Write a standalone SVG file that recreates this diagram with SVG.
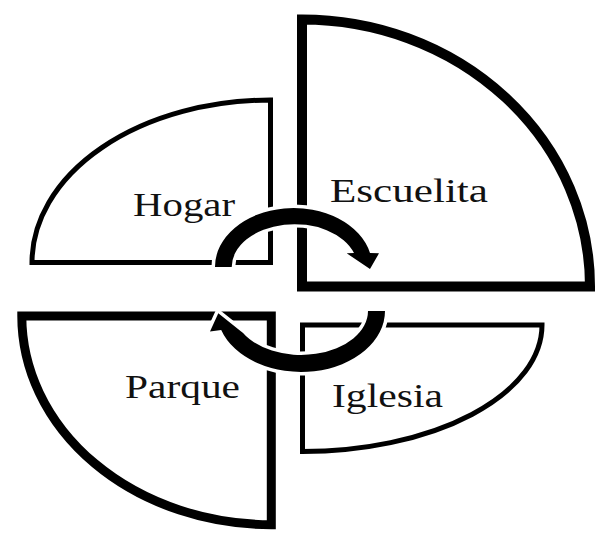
<svg xmlns="http://www.w3.org/2000/svg" width="616" height="548" viewBox="0 0 616 548">
  <style>
    .shape { fill: #ffffff; stroke: #000000; stroke-linejoin: miter; }
    .thin { stroke-width: 5; }
    .mid { stroke-width: 9; }
    .thick { stroke-width: 10; }
    .label { font-family: "Liberation Serif", "Times New Roman", serif; font-size: 34px; fill: #111111; }
    .arrow { fill: #000000; stroke: #ffffff; stroke-width: 7; stroke-linejoin: miter; paint-order: stroke; }
  </style>
  <rect width="616" height="548" fill="#ffffff"/>
  <g id="hogar">
    <path class="shape thin" d="M 270.5 100 L 270.5 262.5 L 32 262.5 A 238.5 162.5 0 0 1 270.5 100 Z"/>
    <text class="label" x="133" y="216" textLength="102" lengthAdjust="spacingAndGlyphs">Hogar</text>
  </g>
  <g id="escuelita">
    <path class="shape thick" d="M 302 19.5 L 302 286.5 L 590 286.5 A 288 267 0 0 0 302 19.5 Z"/>
    <text class="label" x="330" y="201.7" textLength="158" lengthAdjust="spacingAndGlyphs">Escuelita</text>
  </g>
  <g id="parque">
    <path class="shape mid" d="M 21.8 316 L 271.3 316 L 271.3 524.7 A 249.5 208.7 0 0 1 21.8 316 Z"/>
    <text class="label" x="125" y="397.7" textLength="115" lengthAdjust="spacingAndGlyphs">Parque</text>
  </g>
  <g id="iglesia">
    <path class="shape thin" d="M 302.5 451.5 L 302.5 325 L 542 325 A 239.5 126.5 0 0 1 302.5 451.5 Z"/>
    <text class="label" x="332" y="406.7" textLength="111" lengthAdjust="spacingAndGlyphs">Iglesia</text>
  </g>
  <g id="connectors">
    <path class="arrow" d="M 215 267 A 78.6 58.7 0 0 1 370 253 L 379 253.3 L 370 269 L 346.7 253.3 L 354 253 A 62.9 43 0 0 0 231.7 267 Z"/>
    <path class="arrow" d="M 385 311 A 84 61 0 0 1 221.2 330 L 210 331.5 L 218.3 313.3 L 243 333 L 240.6 330 A 67 44 0 0 0 368 311 Z"/>
  </g>
</svg>
